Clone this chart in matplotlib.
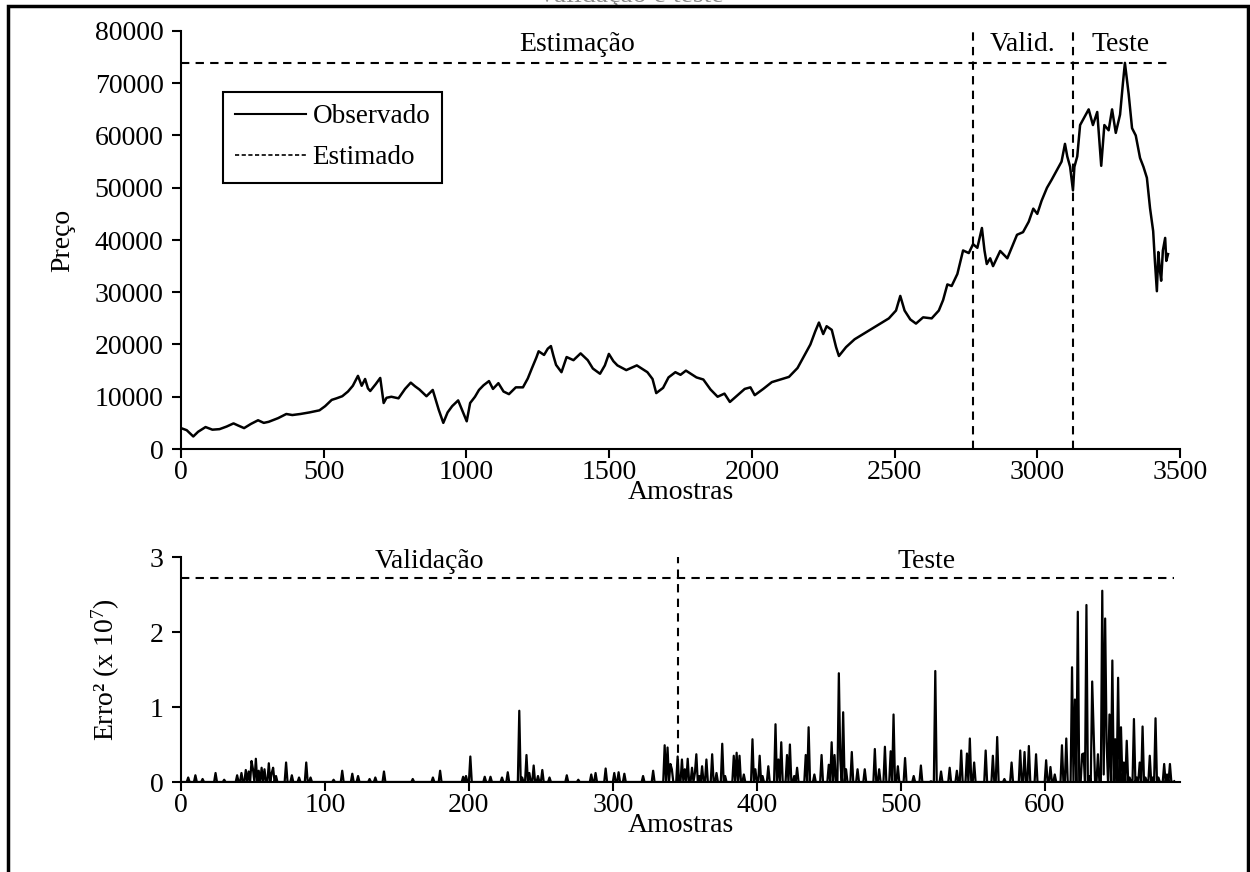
import numpy as np
import matplotlib
matplotlib.use("Agg")
import matplotlib.pyplot as plt
from matplotlib.lines import Line2D
from matplotlib.patches import Rectangle

plt.rcParams['font.family'] = ['Liberation Serif', 'DejaVu Serif']
plt.rcParams['mathtext.fontset'] = 'custom'
plt.rcParams['mathtext.rm'] = 'Liberation Serif'
plt.rcParams['mathtext.it'] = 'Liberation Serif:italic'
FS = 20
plt.rcParams['font.size'] = FS

# ---- price series (sample index, price) ----
price_idx = [0, 20, 43, 60, 86, 110, 135, 160, 184, 200, 221, 245, 270, 290, 307, 340, 369, 390, 418, 450,
             485, 505, 528, 545, 565, 585, 602, 620, 633, 645, 655, 663, 682, 698, 710, 720, 737, 762, 785, 805,
             820, 835, 860, 882, 903, 919, 934, 950, 971, 983, 1001, 1013, 1030, 1044, 1060, 1079, 1093, 1112,
             1130, 1149, 1173, 1198, 1215, 1229, 1245, 1253, 1272, 1285, 1296, 1305, 1314, 1333, 1351, 1375,
             1400, 1425, 1443, 1468, 1485, 1499, 1515, 1529, 1560, 1597, 1620, 1634, 1652, 1665, 1689, 1708,
             1732, 1750, 1769, 1806, 1830, 1855, 1880, 1904, 1923, 1950, 1975, 1995, 2010, 2040, 2070, 2100,
             2130, 2160, 2185, 2205, 2222, 2235, 2250, 2262, 2280, 2295, 2305, 2330, 2360, 2390, 2420, 2450,
             2480, 2505, 2520, 2535, 2555, 2575, 2600, 2630, 2655, 2670, 2685, 2700, 2720, 2740, 2760, 2775,
             2790, 2806, 2815, 2823, 2835, 2845, 2870, 2895, 2910, 2929, 2950, 2970, 2986, 3000, 3015, 3034,
             3050, 3070, 3085, 3097, 3105, 3115, 3125, 3130, 3140, 3150, 3165, 3180, 3195, 3210, 3224, 3235,
             3250, 3262, 3275, 3290, 3300, 3307, 3320, 3332, 3345, 3360, 3372, 3384, 3395, 3406, 3412, 3419,
             3424, 3430, 3434, 3440, 3448, 3452, 3458]
price_val = [4000, 3600, 2400, 3300, 4200, 3700, 3800, 4300, 4900, 4500, 4000, 4800, 5500, 5000, 5200, 5900,
             6700, 6500, 6700, 7000, 7400, 8200, 9400, 9700, 10100, 11000, 12100, 14000, 12100, 13400, 11600,
             11100, 12400, 13600, 8800, 9800, 10000, 9700, 11500, 12700, 12000, 11400, 10100, 11300, 7500,
             5000, 7000, 8200, 9300, 7700, 5300, 8800, 10000, 11300, 12200, 13000, 11500, 12600, 11000, 10500,
             11800, 11800, 13500, 15400, 17500, 18700, 18000, 19200, 19700, 17800, 16100, 14700, 17600, 17000,
             18300, 17000, 15400, 14400, 16000, 18200, 16800, 16000, 15100, 16000, 15200, 14700, 13400, 10700,
             11700, 13700, 14700, 14200, 15000, 13700, 13300, 11400, 10000, 10600, 9000, 10300, 11500, 11800,
             10300, 11500, 12800, 13300, 13800, 15500, 18000, 20000, 22500, 24200, 22000, 23500, 22800, 19500,
             17800, 19500, 21000, 22000, 23000, 24000, 25000, 26500, 29300, 26500, 24800, 24000, 25200, 25000,
             26500, 28500, 31500, 31200, 33500, 38000, 37500, 39200, 38500, 42300, 38000, 35400, 36500, 35000,
             37900, 36500, 38500, 41000, 41500, 43500, 46000, 45000, 47500, 50000, 51500, 53500, 55000, 58400,
             56000, 54000, 49500, 54000, 56000, 62000, 63500, 65000, 62000, 64500, 54200, 62000, 61000, 65000,
             60500, 64000, 70000, 73900, 68000, 61400, 60000, 55700, 54000, 51900, 46100, 41700, 36000, 30200,
             37700, 34000, 32200, 38000, 40400, 36000, 37300]

# ---- squared error over validation + test (sample index, value in 1e7) ----
n_err = 691
err_idx = [5, 10, 15, 24, 30, 39, 42, 45, 47, 49, 50, 52, 54, 56, 58, 61, 63, 64, 66, 73, 77, 82, 87, 90,
           106, 112, 119, 123, 131, 135, 141, 161, 175, 180, 196, 198, 201, 211, 215, 223, 227, 235, 237, 240,
           242, 245, 248, 251, 256, 268, 276, 285, 288, 295, 301, 304, 308, 321, 328, 336, 338, 340, 341, 345,
           348, 350, 352, 355, 357, 358, 360, 362, 365, 369, 372, 376, 378, 384, 386, 388, 391, 397, 399, 402,
           404, 408, 413, 415, 417, 421, 423, 426, 428, 434, 436, 440, 445, 450, 452, 454, 457, 458, 460, 462,
           466, 470, 475, 482, 485, 489, 493, 495, 498, 503, 509, 514, 521, 524, 528, 534, 539, 542, 546, 548,
           551, 559, 564, 567, 572, 577, 583, 586, 589, 594, 601, 604, 607, 612, 615, 619, 621, 623, 626, 627,
           629, 631, 633, 634, 637, 640, 641, 642, 643, 645, 647, 649, 651, 653, 655, 657, 659, 662, 664, 666,
           668, 670, 673, 675, 677, 679, 683, 685, 687, 690]
err_val = [0.06, 0.09, 0.04, 0.12, 0.03, 0.09, 0.12, 0.16, 0.14, 0.28, 0.17, 0.31, 0.15, 0.19, 0.17, 0.25,
           0.12, 0.19, 0.08, 0.26, 0.09, 0.06, 0.26, 0.06, 0.03, 0.15, 0.11, 0.08, 0.04, 0.06, 0.14, 0.04,
           0.06, 0.15, 0.07, 0.08, 0.34, 0.07, 0.07, 0.06, 0.13, 0.95, 0.06, 0.36, 0.12, 0.22, 0.08, 0.16,
           0.06, 0.09, 0.03, 0.10, 0.12, 0.18, 0.12, 0.13, 0.11, 0.08, 0.15, 0.49, 0.46, 0.24, 0.17, 0.34,
           0.30, 0.17, 0.31, 0.19, 0.12, 0.37, 0.08, 0.21, 0.30, 0.37, 0.12, 0.51, 0.08, 0.35, 0.39, 0.35,
           0.10, 0.57, 0.17, 0.35, 0.08, 0.21, 0.77, 0.30, 0.53, 0.36, 0.50, 0.08, 0.19, 0.36, 0.73, 0.10,
           0.36, 0.23, 0.53, 0.36, 1.45, 0.30, 0.93, 0.17, 0.40, 0.17, 0.17, 0.44, 0.17, 0.47, 0.41, 0.90,
           0.21, 0.32, 0.08, 0.22, 0.01, 1.48, 0.14, 0.19, 0.15, 0.42, 0.38, 0.58, 0.26, 0.42, 0.35, 0.60,
           0.04, 0.26, 0.42, 0.40, 0.48, 0.37, 0.29, 0.20, 0.10, 0.49, 0.58, 1.53, 1.10, 2.27, 0.37, 0.38,
           2.36, 0.08, 1.34, 0.68, 0.37, 2.55, 0.10, 2.18, 0.53, 0.90, 1.62, 0.57, 1.39, 0.73, 0.26, 0.55,
           0.06, 0.84, 0.06, 0.26, 0.74, 0.06, 0.35, 0.06, 0.85, 0.06, 0.24, 0.10, 0.24, 0.01]

# period boundaries and reference levels
est_end = 2775
val_end = 3125
err_split = 345
price_ref = 73800
err_ref = 2.72

W, H = 1250, 872
fig = plt.figure(figsize=(W / 100, H / 100), dpi=100)

# outer frame of the figure
fig.patches.append(Rectangle((8 / W, -0.05), (1248 - 8) / W, 1.05 - 6 / H, transform=fig.transFigure,
                             fill=False, edgecolor='black', linewidth=2.5, zorder=10))
fig.text(630 / W, 1 - 2 / H, 'Validação e teste', ha='center', va='baseline', color='#8a8a8a', fontsize=FS)

def style(ax):
    for s in ('top', 'right'):
        ax.spines[s].set_visible(False)
    for s in ('left', 'bottom'):
        ax.spines[s].set_linewidth(1.5)
    ax.tick_params(direction='out', length=6.5, width=1.5, labelsize=FS)
    ax.tick_params(axis='y', pad=6)
    ax.tick_params(axis='x', pad=1.5)

dash = (0, (4, 3))

# ---- top: observed price ----
ax1 = fig.add_axes([181 / W, 1 - 449 / H, (1180 - 181) / W, (449 - 31) / H])
style(ax1)
ax1.plot(price_idx, price_val, color='black', lw=1.8)
ax1.plot([0, price_idx[-1]], [price_ref, price_ref], color='black', lw=1.5, linestyle=dash)
ax1.plot([est_end, est_end], [0, 80000], color='black', lw=1.5, linestyle=dash)
ax1.plot([val_end, val_end], [0, 80000], color='black', lw=1.5, linestyle=dash)
ax1.set_xlim(0, 3500)
ax1.set_ylim(0, 80000)
ax1.set_xticks(np.arange(0, 3501, 500))
ax1.set_yticks(np.arange(0, 80001, 10000))
ax1.set_xlabel('Amostras', fontsize=FS, labelpad=-4)
ax1.set_ylabel('Preço', fontsize=FS, labelpad=14)
ax1.text(est_end / 2, 75000, 'Estimação', ha='center', va='bottom', fontsize=FS)
ax1.text((est_end + val_end) / 2, 75000, 'Valid.', ha='center', va='bottom', fontsize=FS)
ax1.text((val_end + price_idx[-1]) / 2, 75000, 'Teste', ha='center', va='bottom', fontsize=FS)
handles = [Line2D([], [], color='black', lw=1.5),
           Line2D([], [], color='black', lw=1.2, linestyle=(0, (2.5, 1.5)))]
leg = ax1.legend(handles, ['Observado', 'Estimado'], loc='upper left',
                 bbox_to_anchor=((223 - 181) / (1180 - 181), 1 - (92 - 31) / (449 - 31)),
                 borderaxespad=0, frameon=True, fancybox=False, edgecolor='black', framealpha=1,
                 handlelength=2.6, handletextpad=0.25, borderpad=0.45, labelspacing=0.6, fontsize=19.5)
leg.get_frame().set_linewidth(1.5)

# ---- bottom: squared error ----
err = np.zeros(n_err)
err[err_idx] = err_val
ax2 = fig.add_axes([181 / W, 1 - 782 / H, (1180 - 181) / W, (782 - 557) / H])
style(ax2)
ax2.plot(np.arange(n_err), err, color='black', lw=1.6)
ax2.plot([0, n_err - 1], [err_ref, err_ref], color='black', lw=1.5, linestyle=dash)
ax2.plot([err_split, err_split], [0, 3], color='black', lw=1.5, linestyle=dash)
ax2.set_xlim(0, 694)
ax2.set_ylim(0, 3)
ax2.set_xticks(np.arange(0, 601, 100))
ax2.set_yticks([0, 1, 2, 3])
ax2.set_xlabel('Amostras', fontsize=FS, labelpad=-4)
ax2.set_ylabel(r'Erro² (x 10$^{7}$)', fontsize=FS, labelpad=20)
ax2.text(err_split / 2, 2.78, 'Validação', ha='center', va='bottom', fontsize=FS)
ax2.text((err_split + n_err) / 2, 2.78, 'Teste', ha='center', va='bottom', fontsize=FS)

fig.savefig('out.png', dpi=100)
